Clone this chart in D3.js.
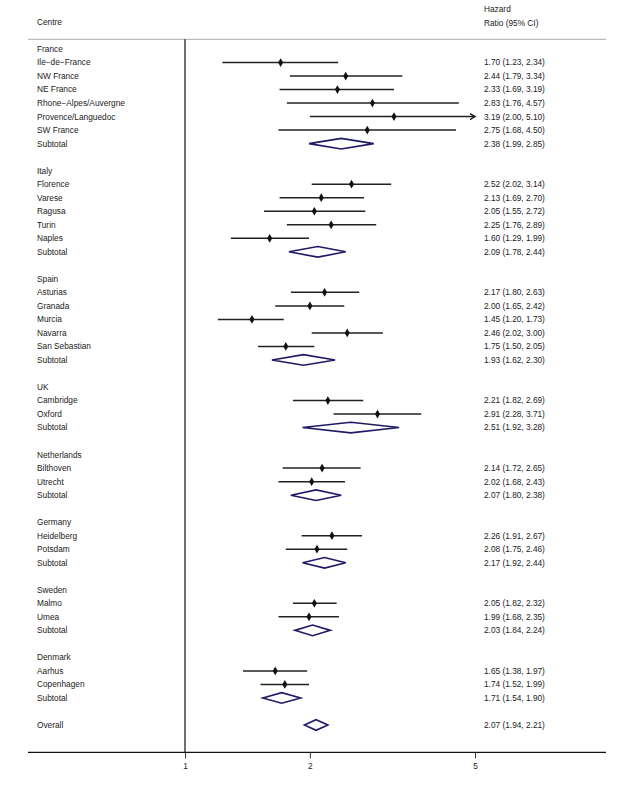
<!DOCTYPE html>
<html><head><meta charset="utf-8">
<script src="https://cdn.jsdelivr.net/npm/d3@7"></script>
<style>body{margin:0;background:#fff}svg{display:block}text{font-family:"Liberation Sans",Arial,sans-serif;fill:#222}</style>
</head><body>
<script>
// Row data (top to bottom); kind: h=header, s=study, t=subtotal, b=blank, o=overall
const labels = ["France","Ile−de−France","NW France","NE France","Rhone−Alpes/Auvergne","Provence/Languedoc","SW France","Subtotal","",
 "Italy","Florence","Varese","Ragusa","Turin","Naples","Subtotal","",
 "Spain","Asturias","Granada","Murcia","Navarra","San Sebastian","Subtotal","",
 "UK","Cambridge","Oxford","Subtotal","",
 "Netherlands","Bilthoven","Utrecht","Subtotal","",
 "Germany","Heidelberg","Potsdam","Subtotal","",
 "Sweden","Malmo","Umea","Subtotal","",
 "Denmark","Aarhus","Copenhagen","Subtotal","",
 "Overall"];
const kinds = ["h","s","s","s","s","s","s","t","b",
 "h","s","s","s","s","s","t","b",
 "h","s","s","s","s","s","t","b",
 "h","s","s","t","b",
 "h","s","s","t","b",
 "h","s","s","t","b",
 "h","s","s","t","b",
 "h","s","s","t","b",
 "o"];
const hr = [null,1.70,2.44,2.33,2.83,3.19,2.75,2.38,null,
 null,2.52,2.13,2.05,2.25,1.60,2.09,null,
 null,2.17,2.00,1.45,2.46,1.75,1.93,null,
 null,2.21,2.91,2.51,null,
 null,2.14,2.02,2.07,null,
 null,2.26,2.08,2.17,null,
 null,2.05,1.99,2.03,null,
 null,1.65,1.74,1.71,null,
 2.07];
const lo = [null,1.23,1.79,1.69,1.76,2.00,1.68,1.99,null,
 null,2.02,1.69,1.55,1.76,1.29,1.78,null,
 null,1.80,1.65,1.20,2.02,1.50,1.62,null,
 null,1.82,2.28,1.92,null,
 null,1.72,1.68,1.80,null,
 null,1.91,1.75,1.92,null,
 null,1.82,1.68,1.84,null,
 null,1.38,1.52,1.54,null,
 1.94];
const hi = [null,2.34,3.34,3.19,4.57,5.10,4.50,2.85,null,
 null,3.14,2.70,2.72,2.89,1.99,2.44,null,
 null,2.63,2.42,1.73,3.00,2.05,2.30,null,
 null,2.69,3.71,3.28,null,
 null,2.65,2.43,2.38,null,
 null,2.67,2.46,2.44,null,
 null,2.32,2.35,2.24,null,
 null,1.97,1.99,1.90,null,
 2.21];
const tickValues = [1,2,5];
const colHeaders = ["Centre","Hazard","Ratio (95% CI)"];

const W = 621, H = 800;
const svg = d3.select("body").append("svg").attr("width", W).attr("height", H);
const x = d3.scaleLog().domain([1,5]).range([185,475]);
const y = d3.scaleLinear().domain([0, labels.length-1]).range([49, 725]);
const fs = 8.3;
const navy = "#1f1a66";
const fmt = d3.format(".2f");

// header
svg.append("text").attr("x",37).attr("y",22.5).attr("dy","0.35em").attr("font-size",fs).text(colHeaders[0]);
svg.append("text").attr("x",484).attr("y",9.3).attr("dy","0.35em").attr("font-size",fs).text(colHeaders[1]);
svg.append("text").attr("x",484).attr("y",23.3).attr("dy","0.35em").attr("font-size",fs).text(colHeaders[2]);
svg.append("line").attr("x1",28).attr("x2",606).attr("y1",39.3).attr("y2",39.3).attr("stroke","#aaa").attr("stroke-width",1);

// reference line at 1
svg.append("line").attr("x1",x(1)).attr("x2",x(1)).attr("y1",39.3).attr("y2",752.3).attr("stroke","#111").attr("stroke-width",1.2);

// axis
const axisG = svg.append("g").attr("transform","translate(0,752.3)");
axisG.append("line").attr("x1",28).attr("x2",606).attr("stroke","#111").attr("stroke-width",1.2);
const ax = d3.axisBottom(x).tickValues(tickValues).tickFormat(d3.format("d")).tickSize(6).tickSizeOuter(0);
const axg = axisG.append("g").call(ax);
axg.select(".domain").remove();
axg.selectAll(".tick line").attr("stroke","#333");
axg.selectAll(".tick text").attr("font-size",fs).attr("font-family","Liberation Sans, Arial, sans-serif").attr("fill","#222").attr("y",11);

// labels & values
labels.forEach((lab,i)=>{
  if(!lab) return;
  svg.append("text").attr("x",37).attr("y",y(i)).attr("dy","0.35em").attr("font-size",fs).text(lab);
  if(hr[i]!=null){
    svg.append("text").attr("x",484).attr("y",y(i)).attr("dy","0.35em").attr("font-size",fs)
      .text(`${fmt(hr[i])} (${fmt(lo[i])}, ${fmt(hi[i])})`);
  }
});

// marks
const xmax = 5;
kinds.forEach((k,i)=>{
  const yy = y(i);
  if(k==="s"){
    const clipped = hi[i] > xmax;
    const x2 = x(Math.min(hi[i], xmax));
    svg.append("line").attr("x1",x(lo[i])).attr("x2",x2).attr("y1",yy).attr("y2",yy)
      .attr("stroke","#222").attr("stroke-width",1.5);
    if(clipped){
      svg.append("path").attr("d",`M${x2-5},${yy-3}L${x2},${yy}L${x2-5},${yy+3}`)
        .attr("fill","none").attr("stroke","#222").attr("stroke-width",1.5);
    }
    svg.append("path").attr("transform",`translate(${x(hr[i])},${yy})`)
      .attr("d",d3.symbol(d3.symbolDiamond,22)()).attr("fill","#111");
  } else if(k==="t"||k==="o"){
    const h = 5.3;
    svg.append("path")
      .attr("d",`M${x(lo[i])},${yy}L${x(hr[i])},${yy-h}L${x(hi[i])},${yy}L${x(hr[i])},${yy+h}Z`)
      .attr("fill","none").attr("stroke",navy).attr("stroke-width",1.6);
  }
});
</script>
</body></html>
